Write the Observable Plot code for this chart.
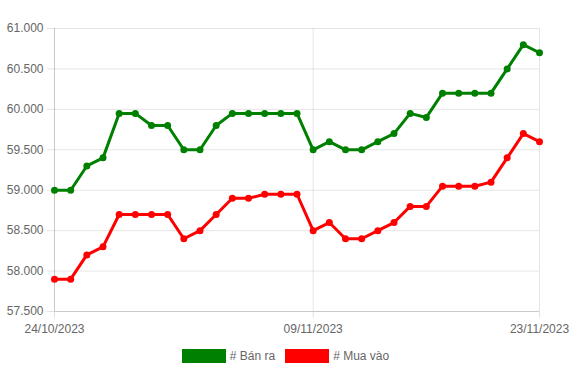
<!DOCTYPE html>
<html><head><meta charset="utf-8">
<script src="https://cdn.jsdelivr.net/npm/d3@7"></script>
<script src="https://cdn.jsdelivr.net/npm/@observablehq/plot@0.6"></script>
<style>
body{margin:0;background:#fff;font-family:Arial,"Liberation Sans",sans-serif}
.legend{display:flex;justify-content:center;align-items:center;margin-top:9px;font-size:12px;color:#666;height:14px}
.item{display:flex;align-items:center;margin:0 5px}
.sw{width:44px;height:14px;display:inline-block;margin-right:4px}
</style></head><body><div id="chart"></div>
<script>
const dateLabels = ["24/10/2023","25/10/2023","26/10/2023","27/10/2023","28/10/2023","29/10/2023","30/10/2023","31/10/2023","01/11/2023","02/11/2023","03/11/2023","04/11/2023","05/11/2023","06/11/2023","07/11/2023","08/11/2023","09/11/2023","10/11/2023","11/11/2023","12/11/2023","13/11/2023","14/11/2023","15/11/2023","16/11/2023","17/11/2023","18/11/2023","19/11/2023","20/11/2023","21/11/2023","22/11/2023","23/11/2023"];
const banRa = [59000,59000,59300,59400,59950,59950,59800,59800,59500,59500,59800,59950,59950,59950,59950,59950,59500,59600,59500,59500,59600,59700,59950,59900,60200,60200,60200,60200,60500,60800,60700];
const muaVao = [57900,57900,58200,58300,58700,58700,58700,58700,58400,58500,58700,58900,58900,58950,58950,58950,58500,58600,58400,58400,58500,58600,58800,58800,59050,59050,59050,59100,59400,59700,59600];
const xTickLabels = ["24/10/2023","09/11/2023","23/11/2023"];
const yTicks = [57500,58000,58500,59000,59500,60000,60500,61000];
const seriesNames = ["# Bán ra","# Mua vào"];
const seriesColors = ["green","red"];

const parse = d3.utcParse("%d/%m/%Y");
const fmtDate = d3.utcFormat("%d/%m/%Y");
const loc = d3.formatLocale({decimal:",",thousands:".",grouping:[3],currency:["",""]});
const fmtY = loc.format(",.0f");

const data = [];
[banRa, muaVao].forEach((vals, s) => {
  vals.forEach((v, i) => data.push({date: parse(dateLabels[i]), value: v, series: seriesNames[s]}));
});
const xTicks = xTickLabels.map(parse);

const plot = Plot.plot({
  width: 571,
  height: 340,
  marginLeft: 54,
  marginRight: 32,
  marginTop: 28,
  marginBottom: 29,
  style: {fontFamily: "Arial, 'Liberation Sans', sans-serif", fontSize: "12px", background: "#fff"},
  x: {type: "utc", domain: [parse(dateLabels[0]), parse(dateLabels[dateLabels.length-1])]},
  y: {domain: [57500, 61000]},
  color: {domain: seriesNames, range: seriesColors},
  marks: [
    Plot.gridY(yTicks, {stroke: "#000", strokeOpacity: 0.1, x1: null}),
    Plot.gridX(xTicks, {stroke: "#000", strokeOpacity: 0.1}),
    Plot.axisY({ticks: yTicks, tickFormat: fmtY, tickSize: 7, tickPadding: 4, stroke: "#e3e3e3", fill: "#666", label: null}),
    Plot.axisX({ticks: xTicks, tickFormat: fmtDate, tickSize: 7, tickPadding: 6, stroke: "#e3e3e3", fill: "#666", label: null}),
    Plot.ruleX([parse(dateLabels[0])], {stroke: "#000", strokeOpacity: 0.12}),
    Plot.ruleY([57500], {stroke: "#000", strokeOpacity: 0.12}),
    Plot.line(data, {x: "date", y: "value", stroke: "series", z: "series", strokeWidth: 3, curve: "linear"}),
    Plot.dot(data, {x: "date", y: "value", fill: "series", r: 3.5})
  ]
});
const chart = document.getElementById("chart");
chart.appendChild(plot);
const legend = document.createElement("div");
legend.className = "legend";
seriesNames.forEach((n, i) => {
  const it = document.createElement("div");
  it.className = "item";
  const sw = document.createElement("span");
  sw.className = "sw";
  sw.style.background = seriesColors[i];
  it.appendChild(sw);
  it.appendChild(document.createTextNode(n));
  legend.appendChild(it);
});
chart.appendChild(legend);
</script>
</body></html>
